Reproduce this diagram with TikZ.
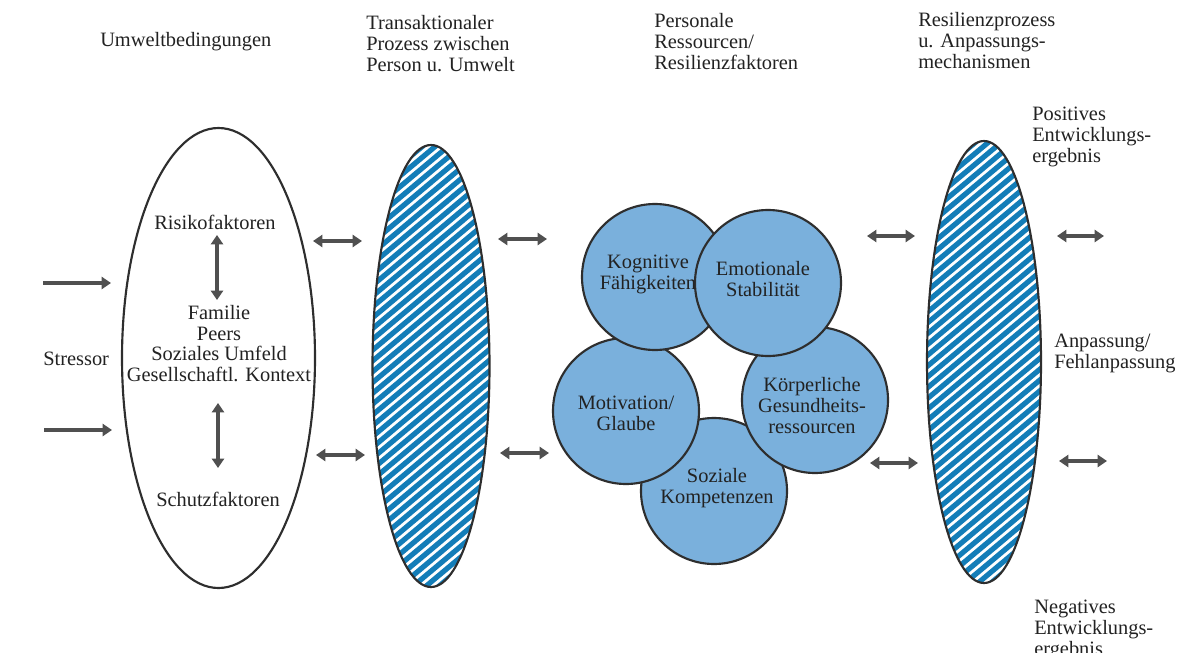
\documentclass[tikz,border=0pt]{standalone}
\usepackage{fontspec}
\setmainfont{Liberation Serif}
\usetikzlibrary{shapes.geometric,arrows.meta}
\definecolor{hatchblue}{HTML}{137DB8}
\definecolor{circfill}{HTML}{7AB0DC}
\definecolor{outl}{HTML}{2E2E2E}
\definecolor{arr}{HTML}{505050}
\definecolor{txt}{HTML}{222222}
\begin{document}
\begin{tikzpicture}[x=0.75pt,y=-0.75pt,
 lbl/.style={inner sep=0pt, text=txt, font=\fontsize{15.3}{15.4}\selectfont},
 lblL/.style={lbl, anchor=base west, align=left},
 lblC/.style={lbl, anchor=base, align=center},
 dbl/.style={draw=arr, line width=2.6pt, {Triangle[length=7pt,width=9pt]}-{Triangle[length=7pt,width=9pt]}},
 sgl/.style={draw=arr, line width=2.6pt, -{Triangle[length=7pt,width=9pt]}},
 res/.style={circle, draw=outl, line width=1.6pt, fill=circfill, minimum size=109.5pt, inner sep=0pt},
 oval/.style={ellipse, draw=outl, line width=1.6pt, inner sep=0pt},
 hatched/.style={oval, fill=white, path picture={
   \foreach \k in {-30,...,30}{
     \draw[hatchblue, line width=3.9pt]
       ([shift={(-80,\k*10.8+67)}]path picture bounding box.center) --
       ([shift={(80,\k*10.8-67)}]path picture bounding box.center);}}}
]
\fill[white] (0,0) rectangle (1185,653);
\useasboundingbox (0,0) rectangle (1185,653);

% headers (anchor = baseline of the last line)
\node[lblL] (h1) at (100,46) {Umweltbedingungen};
\node[lblL] (h2) at (366,71) {Transaktionaler\\Prozess zwischen\\Person u. Umwelt};
\node[lblL] (h3) at (654,69) {Personale\\Ressourcen/\\Resilienzfaktoren};
\node[lblL] (h4) at (918,68) {Resilienzprozess\\u. Anpassungs-\\mechanismen};

% ellipses
\node[oval, fill=white, minimum width=144.75pt, minimum height=345pt] (env) at (218.5,358) {};
\node[hatched, minimum width=87.75pt, minimum height=331.5pt] (trans) at (431,366) {};
\node[hatched, minimum width=85.5pt, minimum height=331.5pt] (resil) at (984,362) {};

% circles
\node[res] (soz) at (714,491) {};
\node[res] (koe) at (815,400) {};
\node[res] (mot) at (626,411) {};
\node[res] (kog) at (655,277) {};
\node[res] (emo) at (768,283) {};

% circle texts
\node[lblC] (tkog) at (648,289.5) {Kognitive\\Fähigkeiten};
\node[lblC] (temo) at (763,296.5) {Emotionale\\Stabilität};
\node[lblC] (tkoe) at (812,433) {Körperliche\\Gesundheits-\\ressourcen};
\node[lblC] (tmot) at (626,430.5) {Motivation/\\Glaube};
\node[lblC] (tsoz) at (717,503.5) {Soziale\\Kompetenzen};

% texts in big ellipse
\node[lblC] (risk) at (215,229) {Risikofaktoren};
\node[lblC] (fam) at (219,381.5) {Familie\\Peers\\Soziales Umfeld\\Gesellschaftl. Kontext};
\node[lblC] (schutz) at (218,506) {Schutzfaktoren};

% side texts
\node[lblL] (stress) at (43,365) {Stressor};
\node[lblL] (pos) at (1032,162) {Positives\\Entwicklungs-\\ergebnis};
\node[lblL] (anp) at (1054,368.5) {Anpassung/\\Fehlanpassung};
\node[lblL] (neg) at (1034,655) {Negatives\\Entwicklungs-\\ergebnis};

% arrow end points
\coordinate (sa1) at (43,283);  \coordinate (sb1) at (111,283);
\coordinate (sa2) at (44,430);  \coordinate (sb2) at (112,430);
\coordinate (va1) at (217,235); \coordinate (vb1) at (217,300);
\coordinate (va2) at (218,403); \coordinate (vb2) at (218,468);
\coordinate (la1) at (313,241); \coordinate (lb1) at (362,241);
\coordinate (la2) at (316,455); \coordinate (lb2) at (365,455);
\coordinate (ma1) at (498,239); \coordinate (mb1) at (547,239);
\coordinate (ma2) at (500,453); \coordinate (mb2) at (549,453);
\coordinate (na1) at (867,236); \coordinate (nb1) at (915,236);
\coordinate (na2) at (870,463); \coordinate (nb2) at (918,463);
\coordinate (ra1) at (1057,236); \coordinate (rb1) at (1104,236);
\coordinate (ra2) at (1059,461); \coordinate (rb2) at (1107,461);

\draw[sgl] (sa1) -- (sb1);
\draw[sgl] (sa2) -- (sb2);
\draw[dbl] (va1) -- (vb1);
\draw[dbl] (va2) -- (vb2);
\draw[dbl] (la1) -- (lb1);
\draw[dbl] (la2) -- (lb2);
\draw[dbl] (ma1) -- (mb1);
\draw[dbl] (ma2) -- (mb2);
\draw[dbl] (na1) -- (nb1);
\draw[dbl] (na2) -- (nb2);
\draw[dbl] (ra1) -- (rb1);
\draw[dbl] (ra2) -- (rb2);
\end{tikzpicture}
\end{document}
